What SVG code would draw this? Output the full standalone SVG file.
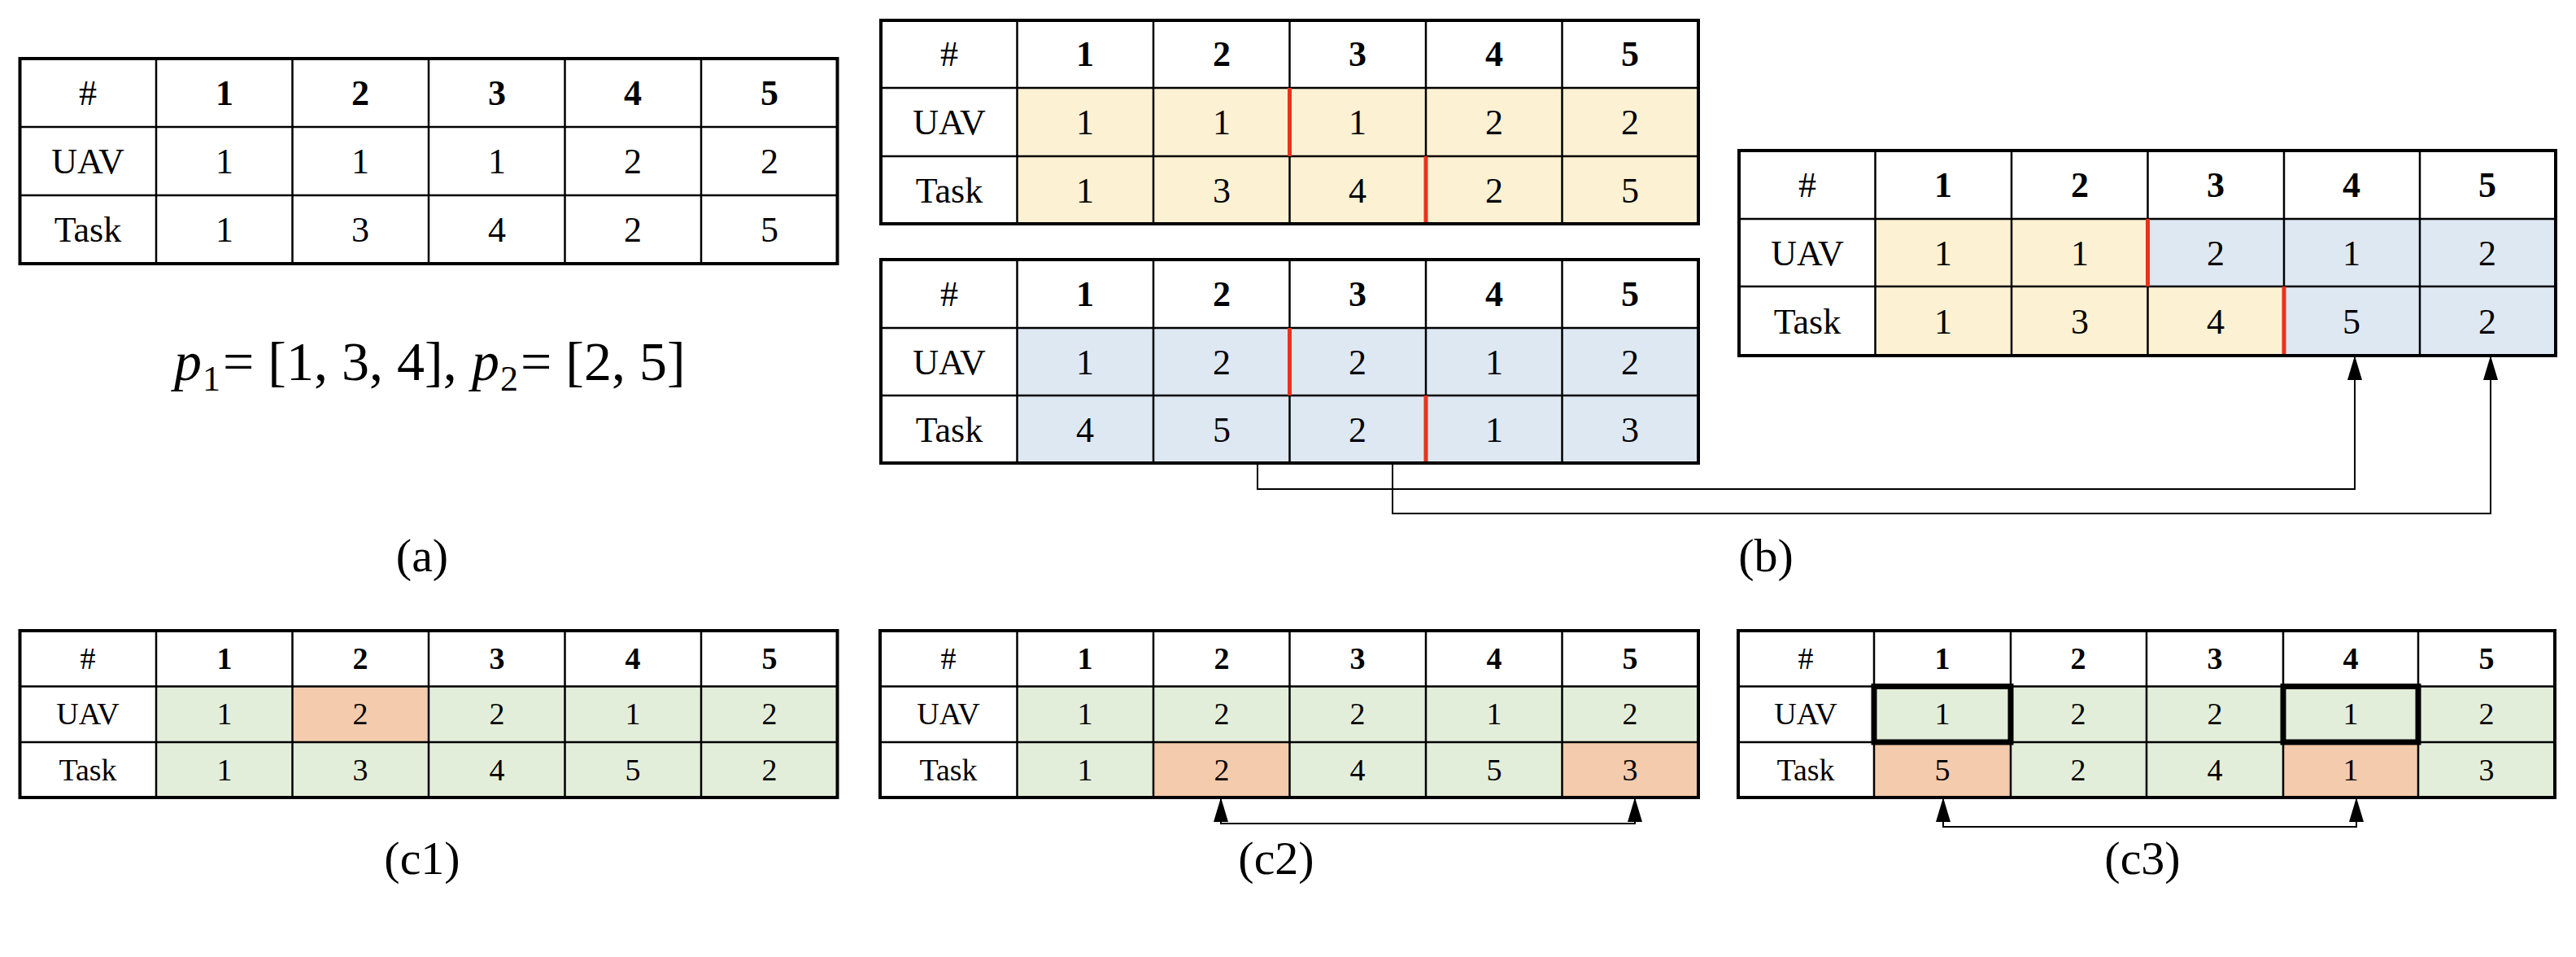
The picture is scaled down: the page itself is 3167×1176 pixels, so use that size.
<svg xmlns="http://www.w3.org/2000/svg" width="3167" height="1176" viewBox="0 0 3167 1176">
<style>
text{font-family:"Liberation Serif","Times New Roman",serif;fill:#000;text-anchor:middle}
.h{font-weight:bold}
.t{font-size:44px}
.s{font-size:38px}
.lab{font-size:58px}
.f{font-size:68px;text-anchor:start}
.fs{font-size:44px;text-anchor:start}
.grid{fill:none;stroke:#000;stroke-width:2.5}
.out{fill:none;stroke:#000;stroke-width:4}
.red{stroke:#E8321E;stroke-width:5}
.thick{fill:none;stroke:#000;stroke-width:7}
.y{fill:#FCF1D2}.b{fill:#DEE8F3}.g{fill:#E3EEDA}.o{fill:#F4CBAC}.w{fill:#fff}
.con{fill:none;stroke:#000;stroke-width:2}
</style>
<defs>
<marker id="ah" markerUnits="userSpaceOnUse" markerWidth="30" markerHeight="18" refX="28" refY="9" viewBox="0 0 30 18" orient="auto-start-reverse">
<path d="M0,0 L30,9 L0,18 Z" fill="#000"/>
</marker>
</defs>

<g id="table-a">
<rect class="w" x="24.5" y="72" width="1005" height="252"/>
<path class="grid" d="M192,72V324M359.5,72V324M527,72V324M694.5,72V324M862,72V324M24.5,156H1029.5M24.5,240H1029.5"/>
<rect class="out" x="24.5" y="72" width="1005" height="252"/>
<g class="t"><text x="108" y="129">#</text><text class="h" x="276" y="129">1</text><text class="h" x="443" y="129">2</text><text class="h" x="611" y="129">3</text><text class="h" x="778" y="129">4</text><text class="h" x="946" y="129">5</text>
<text x="108" y="213">UAV</text><text x="276" y="213">1</text><text x="443" y="213">1</text><text x="611" y="213">1</text><text x="778" y="213">2</text><text x="946" y="213">2</text>
<text x="108" y="297">Task</text><text x="276" y="297">1</text><text x="443" y="297">3</text><text x="611" y="297">4</text><text x="778" y="297">2</text><text x="946" y="297">5</text></g>
</g>
<g id="formula-a">
<text class="f" x="214" y="467" font-style="italic">p</text>
<text class="fs" x="249" y="480">1</text>
<text class="f" x="274" y="467">= [1, 3, 4],</text>
<text class="f" x="580" y="467" font-style="italic">p</text>
<text class="fs" x="615" y="480">2</text>
<text class="f" x="640" y="467">= [2, 5]</text>
</g>
<text id="label-a" class="lab" x="519" y="702">(a)</text>

<g id="table-b1">
<rect class="y" x="1083" y="25" width="1005" height="250"/>
<rect class="w" x="1083" y="25" width="1005" height="83"/>
<rect class="w" x="1083" y="25" width="167.5" height="250"/>
<path class="grid" d="M1250.5,25V275M1418,25V275M1585.5,25V275M1753,25V275M1920.5,25V275M1083,108H2088M1083,192H2088"/>
<path class="red" d="M1585.5,108V192M1753,192V275"/>
<rect class="out" x="1083" y="25" width="1005" height="250"/>
<g class="t"><text x="1167" y="81">#</text><text class="h" x="1334" y="81">1</text><text class="h" x="1502" y="81">2</text><text class="h" x="1669" y="81">3</text><text class="h" x="1837" y="81">4</text><text class="h" x="2004" y="81">5</text>
<text x="1167" y="165">UAV</text><text x="1334" y="165">1</text><text x="1502" y="165">1</text><text x="1669" y="165">1</text><text x="1837" y="165">2</text><text x="2004" y="165">2</text>
<text x="1167" y="249">Task</text><text x="1334" y="249">1</text><text x="1502" y="249">3</text><text x="1669" y="249">4</text><text x="1837" y="249">2</text><text x="2004" y="249">5</text></g>
</g>

<g id="table-b2">
<rect class="b" x="1083" y="319" width="1005" height="250"/>
<rect class="w" x="1083" y="319" width="1005" height="84"/>
<rect class="w" x="1083" y="319" width="167.5" height="250"/>
<path class="grid" d="M1250.5,319V569M1418,319V569M1585.5,319V569M1753,319V569M1920.5,319V569M1083,403H2088M1083,486H2088"/>
<path class="red" d="M1585.5,403V486M1753,486V569"/>
<rect class="out" x="1083" y="319" width="1005" height="250"/>
<g class="t"><text x="1167" y="376">#</text><text class="h" x="1334" y="376">1</text><text class="h" x="1502" y="376">2</text><text class="h" x="1669" y="376">3</text><text class="h" x="1837" y="376">4</text><text class="h" x="2004" y="376">5</text>
<text x="1167" y="460">UAV</text><text x="1334" y="460">1</text><text x="1502" y="460">2</text><text x="1669" y="460">2</text><text x="1837" y="460">1</text><text x="2004" y="460">2</text>
<text x="1167" y="543">Task</text><text x="1334" y="543">4</text><text x="1502" y="543">5</text><text x="1669" y="543">2</text><text x="1837" y="543">1</text><text x="2004" y="543">3</text></g>
</g>

<g id="table-b3">
<rect class="b" x="2138" y="269" width="1004" height="168"/>
<rect class="y" x="2305.5" y="269" width="335" height="83"/>
<rect class="y" x="2305.5" y="352" width="502" height="85"/>
<rect class="w" x="2138" y="185" width="1004" height="84"/>
<rect class="w" x="2138" y="185" width="167.5" height="252"/>
<path class="grid" d="M2305.5,185V437M2473,185V437M2640.5,185V437M2808,185V437M2975,185V437M2138,269H3142M2138,352H3142"/>
<path class="red" d="M2640.5,269V352M2808,352V437"/>
<rect class="out" x="2138" y="185" width="1004" height="252"/>
<g class="t"><text x="2222" y="242">#</text><text class="h" x="2389" y="242">1</text><text class="h" x="2557" y="242">2</text><text class="h" x="2724" y="242">3</text><text class="h" x="2891" y="242">4</text><text class="h" x="3058" y="242">5</text>
<text x="2222" y="326">UAV</text><text x="2389" y="326">1</text><text x="2557" y="326">1</text><text x="2724" y="326">2</text><text x="2891" y="326">1</text><text x="3058" y="326">2</text>
<text x="2222" y="410">Task</text><text x="2389" y="410">1</text><text x="2557" y="410">3</text><text x="2724" y="410">4</text><text x="2891" y="410">5</text><text x="3058" y="410">2</text></g>
</g>
<text id="label-b" class="lab" x="2171" y="702">(b)</text>

<g id="table-c1">
<rect class="g" x="24.5" y="843.5" width="1005" height="136.5"/>
<rect class="o" x="359.5" y="843.5" width="167.5" height="68.5"/>
<rect class="w" x="24.5" y="775" width="1005" height="68.5"/>
<rect class="w" x="24.5" y="775" width="167.5" height="205"/>
<path class="grid" d="M192,775V980M359.5,775V980M527,775V980M694.5,775V980M862,775V980M24.5,843.5H1029.5M24.5,912H1029.5"/>
<rect class="out" x="24.5" y="775" width="1005" height="205"/>
<g class="s"><text x="108" y="822">#</text><text class="h" x="276" y="822">1</text><text class="h" x="443" y="822">2</text><text class="h" x="611" y="822">3</text><text class="h" x="778" y="822">4</text><text class="h" x="946" y="822">5</text>
<text x="108" y="890">UAV</text><text x="276" y="890">1</text><text x="443" y="890">2</text><text x="611" y="890">2</text><text x="778" y="890">1</text><text x="946" y="890">2</text>
<text x="108" y="959">Task</text><text x="276" y="959">1</text><text x="443" y="959">3</text><text x="611" y="959">4</text><text x="778" y="959">5</text><text x="946" y="959">2</text></g>
</g>
<text id="label-c1" class="lab" x="519" y="1074">(c1)</text>

<g id="table-c2">
<rect class="g" x="1082" y="843.5" width="1006" height="136.5"/>
<rect class="o" x="1418" y="912" width="167.5" height="68"/>
<rect class="o" x="1920.5" y="912" width="167.5" height="68"/>
<rect class="w" x="1082" y="775" width="1006" height="68.5"/>
<rect class="w" x="1082" y="775" width="168.5" height="205"/>
<path class="grid" d="M1250.5,775V980M1418,775V980M1585.5,775V980M1753,775V980M1920.5,775V980M1082,843.5H2088M1082,912H2088"/>
<rect class="out" x="1082" y="775" width="1006" height="205"/>
<g class="s"><text x="1166" y="822">#</text><text class="h" x="1334" y="822">1</text><text class="h" x="1502" y="822">2</text><text class="h" x="1669" y="822">3</text><text class="h" x="1837" y="822">4</text><text class="h" x="2004" y="822">5</text>
<text x="1166" y="890">UAV</text><text x="1334" y="890">1</text><text x="1502" y="890">2</text><text x="1669" y="890">2</text><text x="1837" y="890">1</text><text x="2004" y="890">2</text>
<text x="1166" y="959">Task</text><text x="1334" y="959">1</text><text x="1502" y="959">2</text><text x="1669" y="959">4</text><text x="1837" y="959">5</text><text x="2004" y="959">3</text></g>
</g>
<text id="label-c2" class="lab" x="1569" y="1074">(c2)</text>

<g id="table-c3">
<rect class="g" x="2137" y="843.5" width="1004" height="136.5"/>
<rect class="o" x="2304" y="912" width="168" height="68"/>
<rect class="o" x="2807" y="912" width="166" height="68"/>
<rect class="w" x="2137" y="775" width="1004" height="68.5"/>
<rect class="w" x="2137" y="775" width="167" height="205"/>
<path class="grid" d="M2304,775V980M2472,775V980M2639,775V980M2807,775V980M2973,775V980M2137,843.5H3141M2137,912H3141"/>
<rect class="thick" x="2304" y="843.5" width="168" height="68.5"/>
<rect class="thick" x="2807" y="843.5" width="166" height="68.5"/>
<rect class="out" x="2137" y="775" width="1004" height="205"/>
<g class="s"><text x="2220" y="822">#</text><text class="h" x="2388" y="822">1</text><text class="h" x="2555" y="822">2</text><text class="h" x="2723" y="822">3</text><text class="h" x="2890" y="822">4</text><text class="h" x="3057" y="822">5</text>
<text x="2220" y="890">UAV</text><text x="2388" y="890">1</text><text x="2555" y="890">2</text><text x="2723" y="890">2</text><text x="2890" y="890">1</text><text x="3057" y="890">2</text>
<text x="2220" y="959">Task</text><text x="2388" y="959">5</text><text x="2555" y="959">2</text><text x="2723" y="959">4</text><text x="2890" y="959">1</text><text x="3057" y="959">3</text></g>
</g>
<text id="label-c3" class="lab" x="2634" y="1074">(c3)</text>

<g id="connectors">
<path class="con" d="M1546,569V601H2895V439" marker-end="url(#ah)"/>
<path class="con" d="M1712,569V631H3062V439" marker-end="url(#ah)"/>
<path class="con" d="M1501,982V1012H2010V982" marker-start="url(#ah)" marker-end="url(#ah)"/>
<path class="con" d="M2389,982V1016H2897V982" marker-start="url(#ah)" marker-end="url(#ah)"/>
</g>
</svg>
